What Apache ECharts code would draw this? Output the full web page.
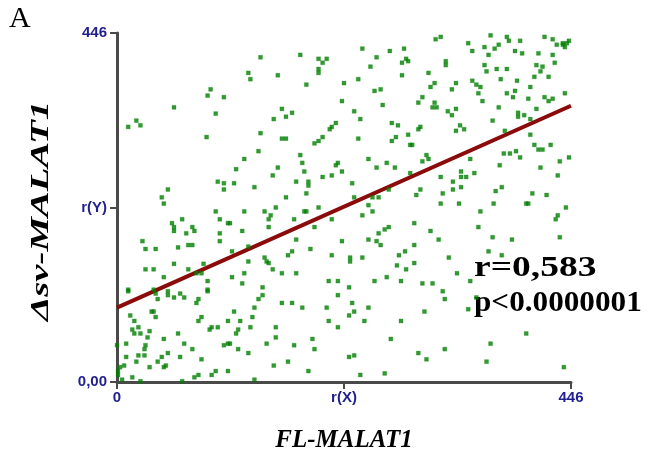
<html>
<head>
<meta charset="utf-8">
<title>FL-MALAT1 vs Δsv-MALAT1</title>
<script src="https://cdn.jsdelivr.net/npm/echarts@6/dist/echarts.min.js"></script>
<style>
  body { margin: 0; background: #fff; }
  #main { width: 649px; height: 465px; }
</style>
</head>
<body>
<div id="main"></div>
<script>
// ranks, [FL-MALAT1 rank, Δsv-MALAT1 rank]
var scatterPoints = [
  [92,374],[89,366],[105,364],[56,351],[97,343],[19,334],[23,328],[11,326],[88,313],
  [141,415],[180,418],[198,413],[206,413],[202,408],[198,400],[198,395],[129,395],[131,387],[158,392],
  [186,380],[223,382],[221,359],[162,349],[154,336],[166,339],[172,344],[215,331],[211,326],[209,323],
  [141,318],[162,311],[166,311],[202,313],[198,308],[194,305],
  [313,438],[318,441],[241,426],[255,415],[268,423],[282,426],[284,413],[286,410],[280,408],[249,403],
  [323,410],[323,405],[237,387],[280,392],[306,395],[312,382],[308,377],[333,382],[329,374],[253,372],
  [259,374],[300,364],[296,357],[261,354],[312,357],[310,351],[314,351],[233,346],[325,346],[333,349],
  [329,341],[239,336],[270,331],[276,328],[298,326],[296,323],[337,328],[333,321],[286,316],[274,313],
  [270,308],[237,311],[288,303],[290,303],
  [367,443],[383,441],[385,436],[396,436],[420,441],[428,438],[345,433],[361,428],[375,431],[371,426],
  [349,423],[365,418],[391,423],[398,420],[414,420],[428,418],[432,431],[438,433],[440,428],[442,433],
  [444,436],[438,431],[361,405],[363,397],[373,400],[383,400],[412,405],[418,403],[416,397],[430,408],
  [349,385],[353,380],[357,377],[355,369],[377,387],[393,385],[410,390],[424,390],[406,377],[383,369],
  [391,372],[389,364],[359,359],[404,362],[420,364],[424,359],[428,362],[440,369],[375,351],[412,349],
  [394,344],[394,339],[400,341],[406,336],[369,334],[341,323],[381,321],[406,316],[410,303],[426,303],
  [50,246],[44,236],[46,228],[99,256],[105,254],[105,246],[97,218],[101,208],[109,203],[64,208],
  [54,203],[56,198],[56,193],[74,198],[76,193],[68,190],[101,190],[25,180],[28,170],[38,170],
  [60,172],[70,175],[74,175],[101,180],[56,151],[85,151],
  [139,295],[125,285],[180,290],[182,280],[117,272],[158,274],[184,269],[217,280],[215,277],[221,269],
  [153,264],[202,262],[211,264],[115,254],[135,249],[176,256],[188,256],[188,251],[186,241],[166,236],
  [125,218],[145,218],[156,223],[184,218],[186,218],[198,223],[151,213],[149,208],[174,208],[211,208],
  [111,203],[149,198],[194,198],[123,193],[176,182],[221,180],[113,167],[172,167],[168,162],[190,170],
  [145,159],[147,154],[149,152],[129,154],[211,162],[129,173],
  [304,290],[300,282],[306,285],[247,285],[255,274],[265,280],[273,274],[288,267],[338,269],[231,254],
  [318,262],[330,256],[338,262],[298,246],[294,239],[320,241],[330,246],[338,249],[318,228],[336,228],
  [233,236],[251,236],[257,236],[247,226],[251,218],[241,213],[267,198],[263,195],[292,203],[257,190],
  [308,193],[247,182],[316,182],[255,180],[259,175],[292,175],[283,167],[277,162],[229,159],[229,154],
  [241,159],[326,159],[275,149],[292,152],[267,246],
  [347,285],[343,262],[351,267],[380,292],[386,292],[392,295],[396,287],[376,277],[414,297],[418,297],
  [435,282],[444,287],[416,274],[433,264],[372,244],[378,249],[408,241],[422,239],[370,228],[402,228],
  [404,228],[441,223],[357,218],[433,213],[431,208],[355,198],[369,185],[388,182],[435,185],[365,167],
  [378,162],
  [28,144],[36,144],[46,134],[70,144],[78,139],[83,139],[11,118],[11,116],[36,118],[38,113],
  [50,116],[50,111],[56,108],[40,106],[62,113],[66,108],[89,129],[89,118],[89,116],[80,106],
  [78,101],[13,85],[17,78],[34,90],[36,90],[38,83],[83,83],[80,78],[21,70],[15,67],
  [17,62],[23,62],[32,65],[30,57],[93,70],[91,67],[99,70],[109,78],[46,55],[60,62],
  [0,47],[9,49],[28,47],[27,42],[66,49],[74,42],[105,47],[109,49],[9,32],[21,34],
  [27,34],[50,37],[44,32],[40,26],[62,32],[19,26],[7,21],[3,19],[1,14],[1,9],
  [32,19],[48,21],[46,19],[83,29],[80,9],[76,6],[93,9],[97,14],[15,6],[5,3],
  [23,1],[64,1],[109,14],
  [113,134],[125,139],[123,126],[153,144],[162,139],[176,139],[208,129],[217,129],[217,111],[143,121],
  [143,111],[139,106],[135,95],[115,90],[162,101],[172,101],[182,95],[206,95],[133,83],[121,78],
  [119,67],[117,62],[131,70],[156,70],[208,78],[217,70],[156,57],[111,49],[147,49],[174,47],
  [192,55],[194,42],[119,42],[129,37],[168,26],[154,21],[188,14],[135,3],
  [284,144],[334,139],[253,129],[265,134],[279,129],[300,126],[310,126],[320,116],[322,106],[228,121],
  [231,101],[233,90],[228,85],[247,95],[243,78],[279,78],[302,90],[269,55],[228,32],[233,34],
  [296,37],[304,29],[322,42],[239,9],[263,11],
  [347,129],[353,108],[345,93],[402,62],[367,49],[363,26],[439,19]
];

// regression line ends
var fitLine = [[0, 95], [446, 353]];

var xTickLabels = { 0: '0', 223: 'r(X)', 446: '446' };
var yTickLabels = { 0: '0,00', 223: 'r(Y)', 446: '446' };

var myChart = echarts.init(document.getElementById('main'));

var axisColor = '#4a4a4a';
var labelStyle = {
  color: '#1f1f8f',
  fontFamily: 'Liberation Sans',
  fontWeight: 'bold',
  fontSize: 15
};
var titleFont = 'italic bold 25px "Liberation Serif"';
var statFont = 'bold 30px "Liberation Serif"';

var option = {
  animation: false,
  backgroundColor: '#fff',
  grid: { left: 117, right: 78, top: 33, bottom: 83 },
  xAxis: {
    type: 'value',
    min: 0,
    max: 446,
    interval: 223,
    splitLine: { show: false },
    axisLine: { lineStyle: { color: axisColor, width: 3 } },
    axisTick: { length: 7, lineStyle: { color: axisColor, width: 2 } },
    axisLabel: Object.assign({
      margin: 8,
      formatter: function (v) { return xTickLabels[v]; }
    }, labelStyle),
    name: 'FL-MALAT1',
    nameLocation: 'middle',
    nameGap: 46,
    nameTextStyle: {
      color: '#000',
      fontFamily: 'Liberation Serif',
      fontWeight: 'bold',
      fontStyle: 'italic',
      fontSize: 25
    }
  },
  yAxis: {
    type: 'value',
    min: 0,
    max: 446,
    interval: 223,
    splitLine: { show: false },
    axisLine: { lineStyle: { color: axisColor, width: 3 } },
    axisTick: { length: 7, lineStyle: { color: axisColor, width: 2 } },
    axisLabel: Object.assign({
      margin: 10,
      formatter: function (v) { return yTickLabels[v]; }
    }, labelStyle)
  },
  graphic: [
    { type: 'text', left: 9, top: 4,
      style: { text: 'A', font: '30px "Liberation Serif"', fill: '#000' } },
    // y title is stretched along its length in the original
    { type: 'text', x: 42, y: 211, rotation: Math.PI / 2, scaleX: 1.55,
      style: { text: 'Δsv-MALAT1', font: titleFont, fill: '#000',
               align: 'center', verticalAlign: 'middle' } },
    { type: 'text', x: 474, y: 253, scaleX: 1.25,
      style: { text: 'r=0,583', font: statFont, fill: '#000' } },
    { type: 'text', x: 474, y: 288, scaleX: 1.04,
      style: { text: 'p<0.0000001', font: statFont, fill: '#000' } }
  ],
  series: [
    {
      type: 'line',
      data: fitLine,
      symbol: 'none',
      z: 2,
      lineStyle: { color: '#8b0a0a', width: 4 }
    },
    {
      type: 'scatter',
      data: scatterPoints,
      symbol: 'rect',
      symbolSize: 4,
      z: 3,
      itemStyle: { color: '#008000', borderColor: 'rgba(0,128,0,0.3)', borderWidth: 1 }
    }
  ]
};
myChart.setOption(option);
</script>
</body>
</html>
